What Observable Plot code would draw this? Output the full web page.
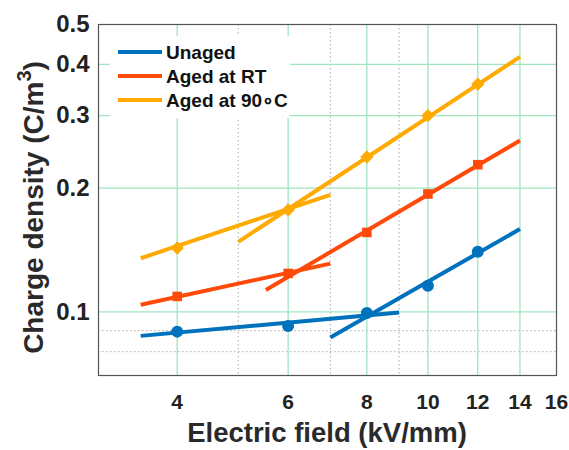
<!DOCTYPE html>
<html>
<head>
<meta charset="utf-8">
<script src="https://cdn.jsdelivr.net/npm/d3@7"></script>
<script src="https://cdn.jsdelivr.net/npm/@observablehq/plot@0.6"></script>
<style>
  html, body { margin: 0; padding: 0; background: #fff; }
  #chart svg { overflow: visible; font-family: "Liberation Sans", Arial, sans-serif; }
</style>
</head>
<body>
<div id="chart"></div>
<script>
// ---- data ----
const fields = [4, 6, 8, 10, 12];
const unaged = [0.0895, 0.0924, 0.0993, 0.1157, 0.140];
const agedRT = [0.109, 0.124, 0.156, 0.1935, 0.228];
const aged90 = [0.143, 0.177, 0.238, 0.300, 0.358];

// fitted line segments: [x1, y1, x2, y2]
const unagedFits = [[3.5, 0.0874, 9, 0.0996], [7, 0.0866, 14, 0.159]];
const agedRTFits = [[3.5, 0.104, 7, 0.131], [5.53, 0.113, 14, 0.261]];
const aged90Fits = [[3.5, 0.135, 7, 0.1925], [5, 0.148, 14, 0.417]];

const seriesNames = ["Unaged", "Aged at RT", "Aged at 90\u2218C"];
const seriesColors = ["#0072BD", "#FF4A0A", "#FFAA00"];
const seriesSymbols = ["circle", "square", "diamond2"];
const seriesR = [6, 5.4, 6];

const xTicks = [4, 6, 8, 10, 12, 14, 16];
const xMajorGrid = [4, 6, 8, 10, 12, 14];
const xMinorGrid = [5, 7, 9];
const yTicks = [0.1, 0.2, 0.3, 0.4, 0.5];
const yMajorGrid = [0.1, 0.2, 0.3, 0.4];
const yMinorGrid = [0.08, 0.09];

const xLabel = "Electric field (kV/mm)";
const yLabel = "Charge density (C/m";
const yLabelSup = "3";

// ---- build tables ----
const seriesVals = [unaged, agedRT, aged90];
const seriesFits = [unagedFits, agedRTFits, aged90Fits];

const W = 569, H = 450, mL = 98, mR = 13, mT = 24, mB = 75;
const font = "Liberation Sans, Arial, sans-serif";

const seriesMarks = [];
seriesVals.forEach((vals, s) => {
  const segs = seriesFits[s].map(([x1, y1, x2, y2]) => ({x1, y1, x2, y2}));
  seriesMarks.push(Plot.link(segs, {x1: "x1", y1: "y1", x2: "x2", y2: "y2", stroke: seriesColors[s], strokeWidth: 4, strokeLinecap: "butt"}));
});
seriesVals.forEach((vals, s) => {
  const pts = fields.map((f, i) => ({x: f, y: vals[i]}));
  seriesMarks.push(Plot.dot(pts, {x: "x", y: "y", fill: seriesColors[s], stroke: "none", symbol: seriesSymbols[s], r: seriesR[s]}));
});

const svg = Plot.plot({
  width: W, height: H,
  marginLeft: mL, marginRight: mR, marginTop: mT, marginBottom: mB,
  style: {fontFamily: font, background: "#fff"},
  x: {type: "log", domain: [3, 16], axis: null},
  y: {type: "log", domain: [0.07, 0.5], axis: null},
  marks: [
    Plot.gridX(xMinorGrid, {stroke: "#aaa", strokeOpacity: 1, strokeDasharray: "1.5,2.5"}),
    Plot.gridY(yMinorGrid, {stroke: "#aaa", strokeOpacity: 1, strokeDasharray: "1.5,2.5"}),
    Plot.gridX(xMajorGrid, {stroke: "#9fe6c0", strokeOpacity: 1, strokeWidth: 1.3}),
    Plot.gridY(yMajorGrid, {stroke: "#9fe6c0", strokeOpacity: 1, strokeWidth: 1.3}),
    Plot.frame({stroke: "#555", strokeWidth: 1.2}),
    Plot.text(xTicks, {x: d => d, frameAnchor: "bottom", lineAnchor: "middle", dy: 27, text: d => String(d), fontSize: 21, fontWeight: "bold", fill: "#222", textAnchor: "middle"}),
    Plot.text(yTicks, {y: d => d, frameAnchor: "left", lineAnchor: "middle", dx: -9, text: d => d.toFixed(1), fontSize: 24, fontWeight: "bold", fill: "#222", textAnchor: "end"}),
    ...seriesMarks
  ]
});

const root = d3.select(svg);

// axis labels
root.append("text")
  .attr("x", (mL + (W - mR)) / 2).attr("y", 442)
  .attr("text-anchor", "middle")
  .attr("font-family", font).attr("font-size", 27.5).attr("font-weight", "bold").attr("fill", "#2a2a2a")
  .text(xLabel);

const yl = root.append("text")
  .attr("transform", `translate(43,${(mT + (H - mB)) / 2 + 8}) rotate(-90)`)
  .attr("text-anchor", "middle")
  .attr("font-family", font).attr("font-size", 28).attr("font-weight", "bold").attr("fill", "#2a2a2a");
yl.append("tspan").text(yLabel);
yl.append("tspan").attr("dy", -12).attr("font-size", 20).text(yLabelSup);
yl.append("tspan").attr("dy", 12).text(")");

// legend
const lg = root.append("g");
lg.append("rect").attr("x", 110).attr("y", 36).attr("width", 180).attr("height", 82).attr("fill", "#fff");
seriesNames.forEach((name, i) => {
  const cy = 52 + i * 24;
  lg.append("line").attr("x1", 118).attr("x2", 162).attr("y1", cy).attr("y2", cy)
    .attr("stroke", seriesColors[i]).attr("stroke-width", 4);
  lg.append("text").attr("x", 166).attr("y", cy + 7)
    .attr("text-anchor", "start")
    .attr("font-family", font).attr("font-size", 19).attr("font-weight", "bold").attr("fill", "#111")
    .text(name);
});

document.getElementById("chart").appendChild(svg);
</script>
</body>
</html>
